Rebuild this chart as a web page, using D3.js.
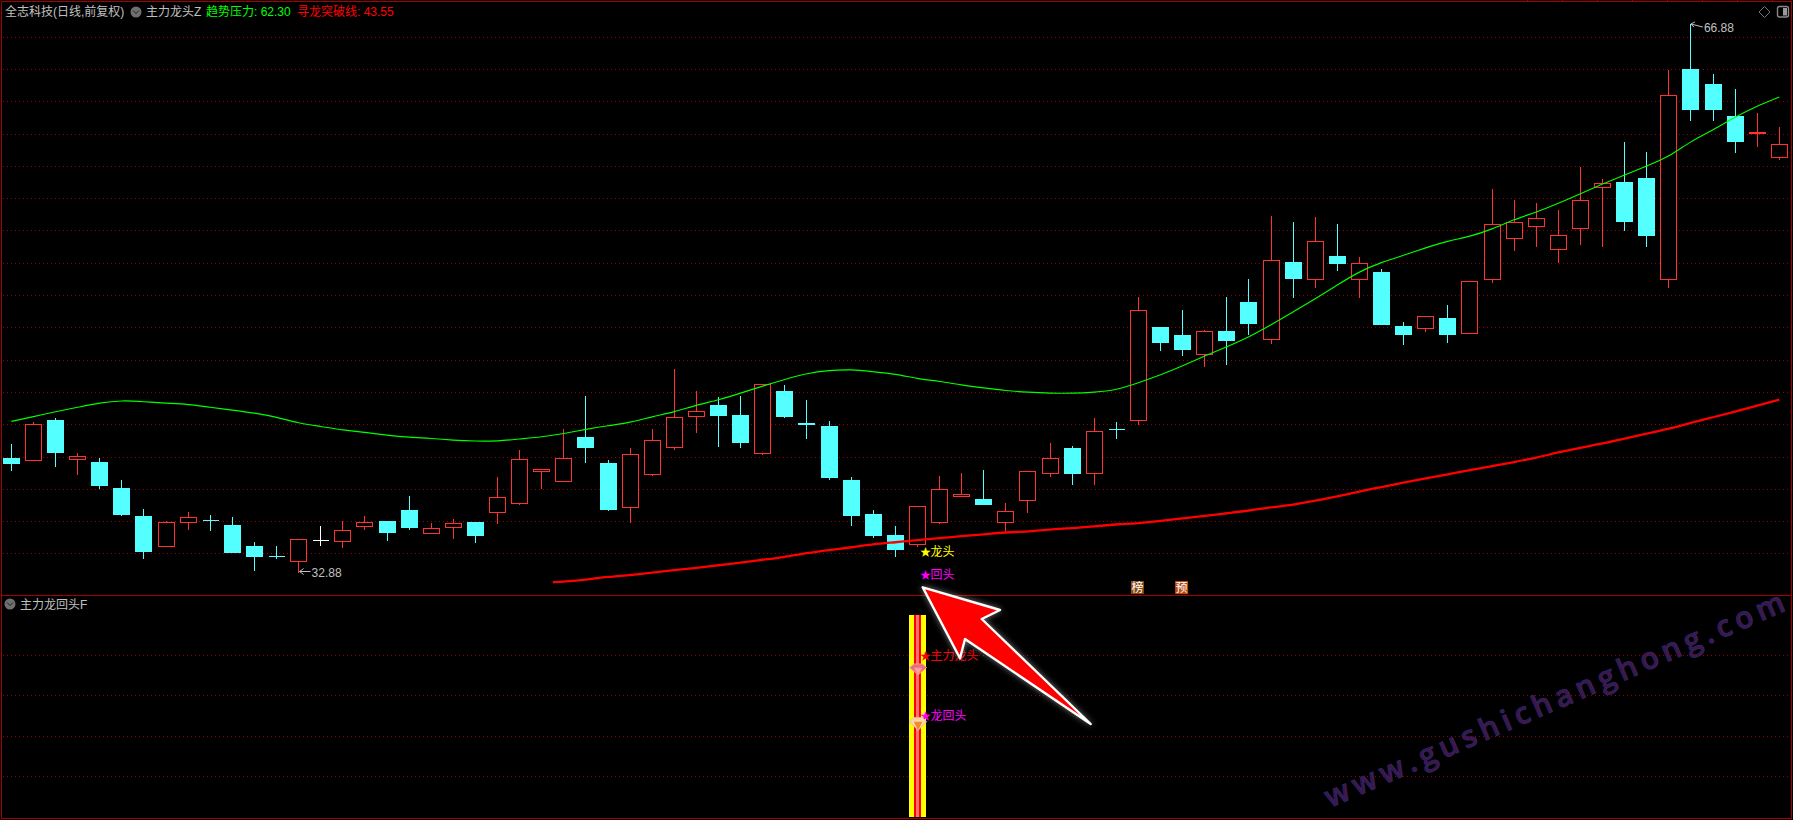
<!DOCTYPE html>
<html>
<head>
<meta charset="utf-8">
<script src="https://cdn.jsdelivr.net/npm/d3@7/dist/d3.min.js"></script>
<style>
html,body{margin:0;padding:0;background:#000;overflow:hidden}
svg{display:block}
text{font-family:"Liberation Sans","Noto Sans CJK SC",sans-serif;font-size:12px}
</style>
</head>
<body>
<svg id="chart" width="1793" height="820"></svg>
<script>
const opens=[39.88,39.77,42.29,39.83,39.69,38.08,36.29,34.45,35.93,36.10,
35.79,34.49,33.87,33.52,34.86,34.76,35.69,35.98,36.66,35.26,
35.62,35.92,36.55,37.11,39.09,38.47,41.24,39.57,36.86,38.91,
40.58,42.50,43.22,42.60,40.21,44.03,42.05,41.92,38.52,36.47,
35.11,34.57,35.93,37.54,37.34,35.93,37.30,38.97,40.50,38.97,
41.71,42.25,48.05,47.50,46.34,47.80,49.54,47.27,52.02,50.98,
52.45,50.98,51.40,48.11,47.95,48.61,47.64,50.98,53.52,54.27,
52.84,54.14,56.68,57.03,57.22,50.98,63.97,63.10,61.06,60.06,58.54];
const closes=[39.57,42.03,40.31,40.05,38.21,36.47,34.12,35.96,36.27,36.05,
34.06,33.87,33.82,34.90,34.86,35.46,35.96,35.30,35.61,35.59,
35.90,35.11,37.51,39.86,39.24,39.92,40.56,36.78,40.17,41.04,
42.46,42.83,42.60,40.93,44.50,42.48,41.99,38.76,36.41,35.11,
34.30,36.95,38.00,37.69,37.09,36.64,39.12,39.92,39.01,41.59,
41.70,49.09,47.12,46.63,47.79,47.19,48.30,52.18,51.03,53.36,
51.96,52.00,48.18,47.56,48.72,47.56,50.88,54.41,54.54,54.79,
53.73,55.90,56.95,54.56,53.69,62.40,61.55,61.55,59.57,60.12,59.37];
const highs=[40.81,42.23,42.42,40.25,40.00,38.58,36.84,36.10,36.60,36.47,
36.29,34.74,34.55,34.90,35.73,36.10,36.41,36.10,37.59,35.92,
36.22,35.98,38.82,40.44,39.24,41.74,43.84,39.82,40.62,41.74,
45.51,44.15,43.72,43.78,44.50,44.52,43.59,42.29,38.82,36.78,
35.79,36.95,38.87,39.07,39.20,37.20,39.12,40.91,40.74,42.42,
42.23,49.97,48.11,49.11,47.87,49.97,51.03,54.93,54.56,54.87,
54.49,52.45,51.65,48.42,48.72,49.42,50.88,56.60,55.98,55.79,
55.30,58.02,57.28,59.57,58.95,63.97,66.88,63.78,62.85,61.31,60.44];
const lows=[39.15,39.77,39.40,38.91,38.04,36.37,33.70,34.45,35.50,35.44,
34.06,32.96,33.70,32.88,34.51,34.39,35.50,34.80,35.54,35.26,
34.94,34.68,35.87,37.03,38.08,38.47,39.69,36.66,35.93,38.84,
40.44,41.49,40.68,40.62,40.13,42.42,41.12,38.58,35.73,34.99,
33.83,34.49,35.87,37.54,37.03,35.38,36.56,38.78,38.27,38.27,
41.12,42.00,46.57,46.26,45.58,45.70,47.56,47.06,49.91,50.53,
51.58,49.85,48.18,46.94,47.80,47.12,47.64,50.78,52.76,53.01,
52.02,53.19,53.01,54.06,53.01,50.47,60.87,60.87,58.89,59.26,58.40];
const trendPressure=[42.21,42.50,42.81,43.08,43.36,43.51,43.43,43.33,43.27,43.08,
42.91,42.73,42.48,42.09,41.90,41.67,41.53,41.35,41.22,41.16,
41.04,40.98,40.98,41.12,41.24,41.45,41.72,41.94,42.13,42.50,
42.79,43.22,43.53,43.95,44.40,44.81,45.19,45.37,45.43,45.28,
45.14,44.85,44.69,44.46,44.28,44.11,44.01,43.95,43.95,44.01,
44.15,44.60,45.08,45.64,46.26,46.83,47.43,48.18,48.99,49.79,
50.65,51.50,52.06,52.49,52.96,53.38,53.65,54.10,54.72,55.16,
55.71,56.31,56.91,57.47,58.02,58.58,59.57,60.25,61.06,61.74,62.30];
const breakoutLineIndex=[24.5,25,26,27,28,29,30,31,32,33,34,35,36,37,38,39,40,41,42,43,44,45,46,47,48,49,50,51,52,
53,54,55,56,57,58,59,60,61,62,63,64,65,66,67,68,69,70,71,72,73,74,75,76,77,78,79,80];
const breakoutLine=[32.24,32.28,32.40,32.59,32.68,32.84,33.00,33.13,33.30,33.46,33.64,33.81,34.06,34.24,34.41,34.60,
34.72,34.86,34.97,35.11,35.21,35.34,35.38,35.52,35.59,35.71,35.83,35.90,36.04,36.21,36.35,36.52,36.68,36.89,37.03,37.31,
37.54,37.87,38.14,38.41,38.68,38.93,39.20,39.43,39.69,39.96,40.29,40.58,40.83,41.14,41.45,41.74,42.13,42.46,42.81,43.18,43.55];
const priceTicks=[34,36,38,40,42,44,46,48,50,52,54,56,58,60,62,64,66];
const signalTicks=[0.2,0.4,0.6,0.8];
const signalIndex=41;
const signalTop=1, signalBottom=0;
const gem1Value=0.73, gem2Value=0.46;
const mainLabel="全志科技(日线,前复权)", indicatorLabel="主力龙头Z";
const pressureLabel="趋势压力: 62.30", breakoutLabel="寻龙突破线: 43.55", subPanelLabel="主力龙回头F";
const highLabel="66.88", lowLabel="32.88", watermark="www.gushichanghong.com";

const RED="#ff3232", CYAN="#54ffff", BORDER="#a80000", GRID="#9a0000", GREY="#c0c0c0";
const svg=d3.select("#chart");
const x=d3.scaleLinear().domain([0,80]).range([11.3,1779.3]);
const y=d3.scaleLinear().domain([66.88,32.88]).range([23,572]);
const ySub=d3.scaleLinear().domain([0,1]).range([816.7,615]);
const snap=v=>Math.floor(v)+0.5;

const layout={priceGridX:[3,1788],panelDivider:595.5};
// watermark behind everything
svg.append("text").attr("transform","translate(1330,808) rotate(-23.4)").text(watermark)
  .attr("textLength",498).attr("lengthAdjust","spacing")
  .style("font-family","'Open Sans','Noto Sans',sans-serif").style("font-size","30px").style("font-weight",600)
  .attr("fill","#421548").attr("stroke","#28286a").attr("stroke-width",0.8);

// grids
const dotted=s=>s.attr("stroke",GRID).attr("stroke-dasharray","1,3").attr("shape-rendering","crispEdges");
svg.append("g").selectAll("line").data(priceTicks).join("line")
  .attr("x1",layout.priceGridX[0]).attr("x2",layout.priceGridX[1])
  .attr("y1",d=>snap(y(d))).attr("y2",d=>snap(y(d))).call(dotted);
svg.append("g").selectAll("line").data(signalTicks).join("line")
  .attr("x1",layout.priceGridX[0]).attr("x2",layout.priceGridX[1])
  .attr("y1",d=>snap(ySub(d))).attr("y2",d=>snap(ySub(d))).call(dotted);

// frame
const frame=svg.append("g").attr("stroke",BORDER).attr("fill","none").attr("shape-rendering","crispEdges");
frame.append("rect").attr("x",1.5).attr("y",1.5).attr("width",1790).attr("height",817);
frame.append("line").attr("x1",1).attr("x2",1792).attr("y1",layout.panelDivider).attr("y2",layout.panelDivider);
frame.selectAll(".tk").data(d3.range(8)).join("line").attr("class","tk")
  .attr("x1",d=>1527.5+35*d).attr("x2",d=>1527.5+35*d).attr("y1",0).attr("y2",2);

// candles
const candles=d3.range(opens.length).map(i=>({i,o:opens[i],c:closes[i],h:highs[i],l:lows[i]}));
const colour=d=>d.c>d.o?RED:(d.c<d.o?CYAN:"#ffffff");
const bodyTop=d=>snap(y(Math.max(d.o,d.c)));
const bodyBot=d=>snap(y(Math.min(d.o,d.c)));
const g=svg.append("g").attr("shape-rendering","crispEdges");
const cg=g.selectAll("g").data(candles).join("g");
cg.append("line").attr("x1",d=>snap(x(d.i))).attr("x2",d=>snap(x(d.i)))
  .attr("y1",d=>snap(y(d.h))).attr("y2",bodyTop).attr("stroke",colour);
cg.append("line").attr("x1",d=>snap(x(d.i))).attr("x2",d=>snap(x(d.i)))
  .attr("y1",bodyBot).attr("y2",d=>snap(y(d.l))).attr("stroke",colour);
// bodies as paths, so a zero-height body still draws as a bar
cg.append("path").attr("d",d=>{
    const l=snap(x(d.i))-8,r=l+16,t=bodyTop(d),b=bodyBot(d);
    return `M${l},${t}H${r}V${b}H${l}Z`;
  })
  .attr("stroke",colour)
  .attr("fill",d=>(d.c<d.o||bodyBot(d)-bodyTop(d)<=1)?colour(d):"#000");

// lines
const lg=d3.line().x((d,i)=>x(i)).y(d=>y(d)).curve(d3.curveBasis);
svg.append("path").attr("d",lg(trendPressure)).attr("fill","none").attr("stroke","#00ff00").attr("stroke-width",1.15);
const lr=d3.line().x((d,i)=>x(breakoutLineIndex[i])).y(d=>y(d)).curve(d3.curveBasis);
svg.append("path").attr("d",lr(breakoutLine)).attr("fill","none").attr("stroke","#ff0000").attr("stroke-width",2.3);

// text helper
function label(str,px,py,col,anchor){return svg.append("text").attr("x",px).attr("y",py).attr("fill",col).attr("text-anchor",anchor||"start").text(str);}
function chevron(cx,cy){
  svg.append("circle").attr("cx",cx).attr("cy",cy).attr("r",5.5).attr("fill","#707070");
  svg.append("path").attr("d",`M${cx-3},${cy-1.5}L${cx},${cy+1.5}L${cx+3},${cy-1.5}`).attr("fill","none").attr("stroke","#222").attr("stroke-width",1);
}
// header
label(mainLabel,5,16,GREY);
chevron(136,12);
label(indicatorLabel,146,16,GREY);
label(pressureLabel,206,16,"#00ff00");
label(breakoutLabel,297,16,"#ff0000");
chevron(10,604);
label(subPanelLabel,20,609,GREY);

// top-right icons
svg.append("path").attr("d","M1764.5,6.5L1770,12L1764.5,17.5L1759,12Z").attr("fill","none").attr("stroke","#777");
svg.append("rect").attr("x",1777.5).attr("y",6.5).attr("width",11).attr("height",10.5).attr("rx",2).attr("fill","none").attr("stroke","#888").attr("stroke-width",1.4);
svg.append("rect").attr("x",1783).attr("y",8).attr("width",4).attr("height",7.5).attr("fill","#999");

// extremes
const hx=x(76), hy=y(66.88), lx=x(13), ly=y(32.88);
svg.append("path").attr("d",`M${hx},${hy+1}L${hx+12},${hy+4}M${hx},${hy+1}l4,-2M${hx},${hy+1}l3,3`).attr("fill","none").attr("stroke",GREY);
label(highLabel,hx+13,hy+8.5,GREY);
svg.append("path").attr("d",`M${lx+1},${ly-0.5}H${lx+12}M${lx+1},${ly-0.5}l4,-3M${lx+1},${ly-0.5}l4,3`).attr("fill","none").attr("stroke",GREY);
label(lowLabel,lx+13,ly+5,GREY);

// signals on price panel
const sx=x(signalIndex);
function starLabel(str,py,col){
  svg.append("text").attr("x",sx+2.5).attr("y",py).attr("fill",col).style("font-size","11px").text("★");
  label(str,sx+13,py,col);
}
starLabel("龙头",555.5,"#ffff00");
starLabel("回头",578.5,"#ff00ff");
// boxed tags
[[51,"榜","#8a4a14"],[53,"预","#b84a12"]].forEach(([idx,t,col])=>{
  svg.append("rect").attr("x",x(idx)-7.5).attr("y",581).attr("width",13).attr("height",13).attr("fill",col);
  label(t,x(idx)-1,592,"#fff","middle");
});

// signal bar on lower panel
const barG=svg.append("g").attr("shape-rendering","crispEdges");
[[17,"#ffff00"],[7,"#ff0000"],[3.5,"#ff7070"]].forEach(([w,col])=>{
  barG.append("rect").attr("x",sx+0.2-w/2).attr("width",w)
    .attr("y",ySub(signalTop)).attr("height",ySub(signalBottom)-ySub(signalTop)).attr("fill",col);
});
starLabel("主力龙头",660,"#ff0000");
starLabel("龙回头",720,"#ff00ff");
// gems
function gem(cx,cy,w,h,c1,c2){
  svg.append("path").attr("d",`M${cx-w/2},${cy-h/6}L${cx-w/4},${cy-h/2}H${cx+w/4}L${cx+w/2},${cy-h/6}L${cx},${cy+h/2}Z`).attr("fill",c1).attr("stroke","#e8b0a8").attr("stroke-width",0.8);
  svg.append("path").attr("d",`M${cx-w/4},${cy-h/6}H${cx+w/4}L${cx},${cy+h/2}Z`).attr("fill",c2);
}
gem(sx+0.7,ySub(gem1Value),17,11,"#f06a78","#ff9aa0");
gem(sx+0.7,ySub(gem2Value),17,13,"#ffd8a0","#f08a30");

// callout arrow
svg.append("path").attr("d","M922.7,587.3L1000,610L981.7,619L1090.7,724L965,639L960,658.3Z")
  .attr("fill","#ff0000").attr("stroke","#fff").attr("stroke-width",2.4).attr("stroke-linejoin","round")
  .style("filter","drop-shadow(0 0 3px rgba(255,255,255,.45))");
</script>
</body>
</html>
